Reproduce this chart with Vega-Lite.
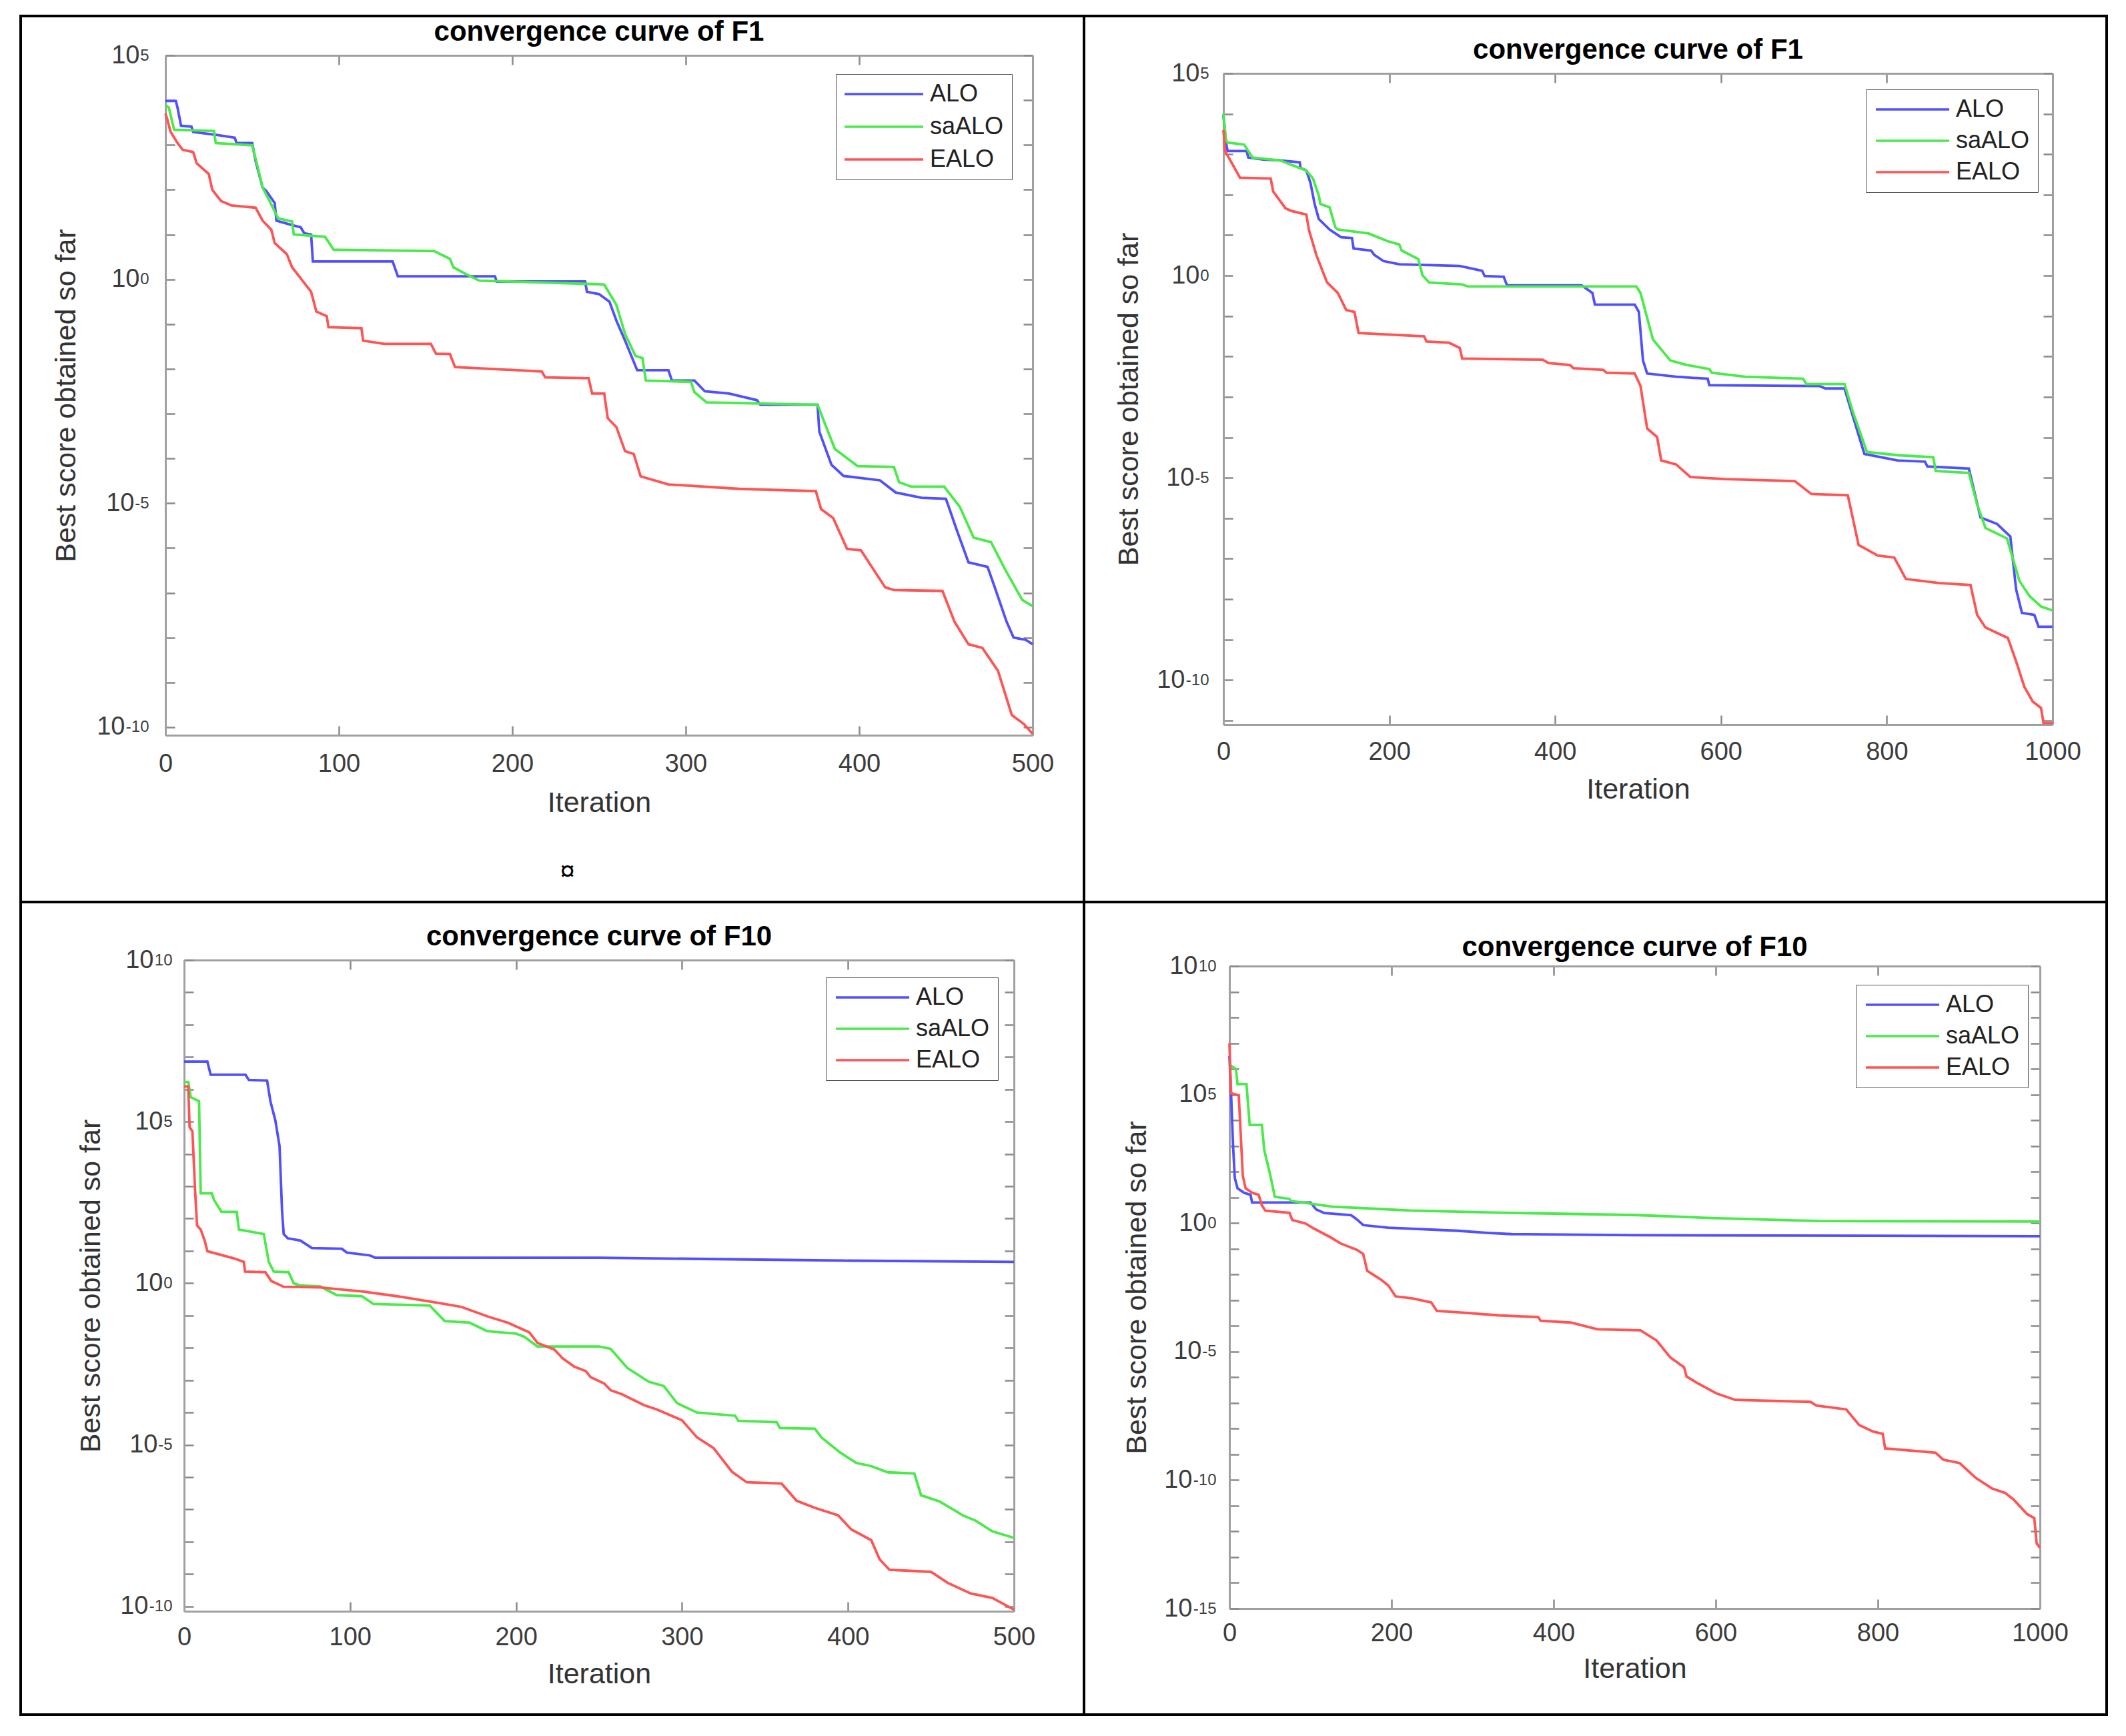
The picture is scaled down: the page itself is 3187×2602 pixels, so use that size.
{
"$schema":"https://vega.github.io/schema/vega-lite/v6.json",
"padding":{"left":29,"top":22,"right":0,"bottom":0},
"background":"white",
"config":{"font":"Liberation Sans","view":{"stroke":"#000000","strokeWidth":4,"fill":"white"},
"axis":{"grid":false,"labelFont":"Liberation Sans","labelColor":"#3c3c3c","labelFontSize":38,"titleFont":"Liberation Sans","titleFontSize":43,"titleFontWeight":"normal","titleColor":"#333333","labelFlush":false,"labelOverlap":false,"labelBound":false,"tickColor":"#8a8a8a","tickWidth":2.5,"domainColor":"#a0a0a0","domainWidth":3},
"title":{"font":"Liberation Sans","fontSize":42,"fontWeight":"bold","color":"#000000","anchor":"middle","frame":"group"},
"legend":{"labelFont":"Liberation Sans"}},
"datasets":{"curves":[
{"panel":"A","algorithm":"ALO","iteration":0,"score":9550},{"panel":"A","algorithm":"ALO","iteration":6,"score":9550},{"panel":"A","algorithm":"ALO","iteration":7,"score":6760},{"panel":"A","algorithm":"ALO","iteration":9,"score":2690},{"panel":"A","algorithm":"ALO","iteration":15,"score":2570},{"panel":"A","algorithm":"ALO","iteration":16,"score":1950},{"panel":"A","algorithm":"ALO","iteration":30,"score":1660},{"panel":"A","algorithm":"ALO","iteration":40,"score":1450},{"panel":"A","algorithm":"ALO","iteration":41,"score":1100},{"panel":"A","algorithm":"ALO","iteration":50,"score":1100},{"panel":"A","algorithm":"ALO","iteration":52,"score":436},{"panel":"A","algorithm":"ALO","iteration":56,"score":112},{"panel":"A","algorithm":"ALO","iteration":58,"score":95.5},{"panel":"A","algorithm":"ALO","iteration":63,"score":50.1},{"panel":"A","algorithm":"ALO","iteration":64,"score":20.4},{"panel":"A","algorithm":"ALO","iteration":73,"score":16.2},{"panel":"A","algorithm":"ALO","iteration":78,"score":14.5},{"panel":"A","algorithm":"ALO","iteration":80,"score":10.7},{"panel":"A","algorithm":"ALO","iteration":84,"score":10},{"panel":"A","algorithm":"ALO","iteration":85,"score":2.51},{"panel":"A","algorithm":"ALO","iteration":131,"score":2.51},{"panel":"A","algorithm":"ALO","iteration":134,"score":1.17},{"panel":"A","algorithm":"ALO","iteration":190,"score":1.17},{"panel":"A","algorithm":"ALO","iteration":191,"score":0.891},{"panel":"A","algorithm":"ALO","iteration":242,"score":0.891},{"panel":"A","algorithm":"ALO","iteration":243,"score":0.525},{"panel":"A","algorithm":"ALO","iteration":250,"score":0.468},{"panel":"A","algorithm":"ALO","iteration":256,"score":0.316},{"panel":"A","algorithm":"ALO","iteration":260,"score":0.12},{"panel":"A","algorithm":"ALO","iteration":265,"score":0.0427},{"panel":"A","algorithm":"ALO","iteration":272,"score":0.00933},{"panel":"A","algorithm":"ALO","iteration":290,"score":0.00933},{"panel":"A","algorithm":"ALO","iteration":292,"score":0.0055},{"panel":"A","algorithm":"ALO","iteration":305,"score":0.0055},{"panel":"A","algorithm":"ALO","iteration":311,"score":0.00316},{"panel":"A","algorithm":"ALO","iteration":325,"score":0.00282},{"panel":"A","algorithm":"ALO","iteration":341,"score":0.002},{"panel":"A","algorithm":"ALO","iteration":343,"score":0.00158},{"panel":"A","algorithm":"ALO","iteration":376,"score":0.00158},{"panel":"A","algorithm":"ALO","iteration":377,"score":0.000398},{"panel":"A","algorithm":"ALO","iteration":384,"score":7.24e-5},{"panel":"A","algorithm":"ALO","iteration":391,"score":4.07e-5},{"panel":"A","algorithm":"ALO","iteration":412,"score":3.24e-5},{"panel":"A","algorithm":"ALO","iteration":421,"score":1.74e-5},{"panel":"A","algorithm":"ALO","iteration":436,"score":1.32e-5},{"panel":"A","algorithm":"ALO","iteration":450,"score":1.26e-5},{"panel":"A","algorithm":"ALO","iteration":456,"score":2.69e-6},{"panel":"A","algorithm":"ALO","iteration":463,"score":4.79e-7},{"panel":"A","algorithm":"ALO","iteration":474,"score":3.8e-7},{"panel":"A","algorithm":"ALO","iteration":478,"score":1.38e-7},{"panel":"A","algorithm":"ALO","iteration":485,"score":2.24e-8},{"panel":"A","algorithm":"ALO","iteration":489,"score":1e-8},{"panel":"A","algorithm":"ALO","iteration":496,"score":8.91e-9},{"panel":"A","algorithm":"ALO","iteration":500,"score":7.08e-9},
{"panel":"A","algorithm":"saALO","iteration":0,"score":7940},{"panel":"A","algorithm":"saALO","iteration":2,"score":6760},{"panel":"A","algorithm":"saALO","iteration":5,"score":2190},{"panel":"A","algorithm":"saALO","iteration":28,"score":2040},{"panel":"A","algorithm":"saALO","iteration":29,"score":1100},{"panel":"A","algorithm":"saALO","iteration":50,"score":977},{"panel":"A","algorithm":"saALO","iteration":53,"score":347},{"panel":"A","algorithm":"saALO","iteration":56,"score":112},{"panel":"A","algorithm":"saALO","iteration":60,"score":56.2},{"panel":"A","algorithm":"saALO","iteration":65,"score":22.9},{"panel":"A","algorithm":"saALO","iteration":73,"score":19.5},{"panel":"A","algorithm":"saALO","iteration":74,"score":10},{"panel":"A","algorithm":"saALO","iteration":92,"score":8.91},{"panel":"A","algorithm":"saALO","iteration":97,"score":4.57},{"panel":"A","algorithm":"saALO","iteration":155,"score":4.27},{"panel":"A","algorithm":"saALO","iteration":158,"score":3.72},{"panel":"A","algorithm":"saALO","iteration":164,"score":2.88},{"panel":"A","algorithm":"saALO","iteration":166,"score":1.86},{"panel":"A","algorithm":"saALO","iteration":173,"score":1.32},{"panel":"A","algorithm":"saALO","iteration":181,"score":0.933},{"panel":"A","algorithm":"saALO","iteration":250,"score":0.776},{"panel":"A","algorithm":"saALO","iteration":253,"score":0.759},{"panel":"A","algorithm":"saALO","iteration":260,"score":0.269},{"panel":"A","algorithm":"saALO","iteration":265,"score":0.0603},{"panel":"A","algorithm":"saALO","iteration":271,"score":0.0195},{"panel":"A","algorithm":"saALO","iteration":275,"score":0.0174},{"panel":"A","algorithm":"saALO","iteration":277,"score":0.0055},{"panel":"A","algorithm":"saALO","iteration":303,"score":0.00513},{"panel":"A","algorithm":"saALO","iteration":305,"score":0.00302},{"panel":"A","algorithm":"saALO","iteration":312,"score":0.00178},{"panel":"A","algorithm":"saALO","iteration":376,"score":0.00158},{"panel":"A","algorithm":"saALO","iteration":381,"score":0.000501},{"panel":"A","algorithm":"saALO","iteration":386,"score":0.000162},{"panel":"A","algorithm":"saALO","iteration":399,"score":6.76e-5},{"panel":"A","algorithm":"saALO","iteration":420,"score":6.46e-5},{"panel":"A","algorithm":"saALO","iteration":423,"score":2.95e-5},{"panel":"A","algorithm":"saALO","iteration":430,"score":2.34e-5},{"panel":"A","algorithm":"saALO","iteration":449,"score":2.34e-5},{"panel":"A","algorithm":"saALO","iteration":458,"score":8.32e-6},{"panel":"A","algorithm":"saALO","iteration":466,"score":1.7e-6},{"panel":"A","algorithm":"saALO","iteration":476,"score":1.35e-6},{"panel":"A","algorithm":"saALO","iteration":484,"score":3.39e-7},{"panel":"A","algorithm":"saALO","iteration":494,"score":6.92e-8},{"panel":"A","algorithm":"saALO","iteration":500,"score":5.01e-8},
{"panel":"A","algorithm":"EALO","iteration":0,"score":5010},{"panel":"A","algorithm":"EALO","iteration":1,"score":3800},{"panel":"A","algorithm":"EALO","iteration":3,"score":1950},{"panel":"A","algorithm":"EALO","iteration":7,"score":1100},{"panel":"A","algorithm":"EALO","iteration":10,"score":776},{"panel":"A","algorithm":"EALO","iteration":16,"score":692},{"panel":"A","algorithm":"EALO","iteration":18,"score":389},{"panel":"A","algorithm":"EALO","iteration":25,"score":224},{"panel":"A","algorithm":"EALO","iteration":27,"score":100},{"panel":"A","algorithm":"EALO","iteration":32,"score":56.2},{"panel":"A","algorithm":"EALO","iteration":38,"score":44.7},{"panel":"A","algorithm":"EALO","iteration":52,"score":39.8},{"panel":"A","algorithm":"EALO","iteration":56,"score":20.4},{"panel":"A","algorithm":"EALO","iteration":61,"score":12.9},{"panel":"A","algorithm":"EALO","iteration":63,"score":6.46},{"panel":"A","algorithm":"EALO","iteration":70,"score":3.63},{"panel":"A","algorithm":"EALO","iteration":73,"score":1.86},{"panel":"A","algorithm":"EALO","iteration":79,"score":0.933},{"panel":"A","algorithm":"EALO","iteration":84,"score":0.525},{"panel":"A","algorithm":"EALO","iteration":87,"score":0.191},{"panel":"A","algorithm":"EALO","iteration":93,"score":0.151},{"panel":"A","algorithm":"EALO","iteration":94,"score":0.0851},{"panel":"A","algorithm":"EALO","iteration":113,"score":0.0813},{"panel":"A","algorithm":"EALO","iteration":114,"score":0.0427},{"panel":"A","algorithm":"EALO","iteration":126,"score":0.0363},{"panel":"A","algorithm":"EALO","iteration":153,"score":0.0363},{"panel":"A","algorithm":"EALO","iteration":156,"score":0.0219},{"panel":"A","algorithm":"EALO","iteration":164,"score":0.0214},{"panel":"A","algorithm":"EALO","iteration":167,"score":0.011},{"panel":"A","algorithm":"EALO","iteration":193,"score":0.00977},{"panel":"A","algorithm":"EALO","iteration":217,"score":0.00871},{"panel":"A","algorithm":"EALO","iteration":219,"score":0.00646},{"panel":"A","algorithm":"EALO","iteration":244,"score":0.00617},{"panel":"A","algorithm":"EALO","iteration":246,"score":0.00282},{"panel":"A","algorithm":"EALO","iteration":253,"score":0.00282},{"panel":"A","algorithm":"EALO","iteration":255,"score":0.000794},{"panel":"A","algorithm":"EALO","iteration":260,"score":0.000501},{"panel":"A","algorithm":"EALO","iteration":265,"score":0.000145},{"panel":"A","algorithm":"EALO","iteration":270,"score":0.000126},{"panel":"A","algorithm":"EALO","iteration":274,"score":3.98e-5},{"panel":"A","algorithm":"EALO","iteration":290,"score":2.63e-5},{"panel":"A","algorithm":"EALO","iteration":331,"score":2.09e-5},{"panel":"A","algorithm":"EALO","iteration":375,"score":1.86e-5},{"panel":"A","algorithm":"EALO","iteration":378,"score":7.41e-6},{"panel":"A","algorithm":"EALO","iteration":385,"score":4.68e-6},{"panel":"A","algorithm":"EALO","iteration":393,"score":9.55e-7},{"panel":"A","algorithm":"EALO","iteration":401,"score":8.91e-7},{"panel":"A","algorithm":"EALO","iteration":415,"score":1.32e-7},{"panel":"A","algorithm":"EALO","iteration":420,"score":1.15e-7},{"panel":"A","algorithm":"EALO","iteration":448,"score":1.1e-7},{"panel":"A","algorithm":"EALO","iteration":455,"score":2.24e-8},{"panel":"A","algorithm":"EALO","iteration":463,"score":7.08e-9},{"panel":"A","algorithm":"EALO","iteration":471,"score":5.89e-9},{"panel":"A","algorithm":"EALO","iteration":480,"score":1.82e-9},{"panel":"A","algorithm":"EALO","iteration":488,"score":1.86e-10},{"panel":"A","algorithm":"EALO","iteration":495,"score":1.17e-10},{"panel":"A","algorithm":"EALO","iteration":500,"score":7.08e-11},
{"panel":"B","algorithm":"ALO","iteration":0,"score":9330},{"panel":"B","algorithm":"ALO","iteration":3,"score":2000},{"panel":"B","algorithm":"ALO","iteration":5,"score":1200},{"panel":"B","algorithm":"ALO","iteration":28,"score":1200},{"panel":"B","algorithm":"ALO","iteration":30,"score":832},{"panel":"B","algorithm":"ALO","iteration":48,"score":741},{"panel":"B","algorithm":"ALO","iteration":68,"score":708},{"panel":"B","algorithm":"ALO","iteration":92,"score":631},{"panel":"B","algorithm":"ALO","iteration":93,"score":457},{"panel":"B","algorithm":"ALO","iteration":100,"score":398},{"panel":"B","algorithm":"ALO","iteration":105,"score":195},{"panel":"B","algorithm":"ALO","iteration":110,"score":58.9},{"panel":"B","algorithm":"ALO","iteration":115,"score":25.1},{"panel":"B","algorithm":"ALO","iteration":128,"score":13.8},{"panel":"B","algorithm":"ALO","iteration":142,"score":8.91},{"panel":"B","algorithm":"ALO","iteration":155,"score":8.51},{"panel":"B","algorithm":"ALO","iteration":157,"score":4.68},{"panel":"B","algorithm":"ALO","iteration":178,"score":4.17},{"panel":"B","algorithm":"ALO","iteration":182,"score":3.24},{"panel":"B","algorithm":"ALO","iteration":193,"score":2.29},{"panel":"B","algorithm":"ALO","iteration":212,"score":1.91},{"panel":"B","algorithm":"ALO","iteration":285,"score":1.74},{"panel":"B","algorithm":"ALO","iteration":312,"score":1.32},{"panel":"B","algorithm":"ALO","iteration":315,"score":0.977},{"panel":"B","algorithm":"ALO","iteration":338,"score":0.933},{"panel":"B","algorithm":"ALO","iteration":342,"score":0.575},{"panel":"B","algorithm":"ALO","iteration":432,"score":0.575},{"panel":"B","algorithm":"ALO","iteration":445,"score":0.372},{"panel":"B","algorithm":"ALO","iteration":448,"score":0.191},{"panel":"B","algorithm":"ALO","iteration":496,"score":0.191},{"panel":"B","algorithm":"ALO","iteration":501,"score":0.126},{"panel":"B","algorithm":"ALO","iteration":506,"score":0.00794},{"panel":"B","algorithm":"ALO","iteration":511,"score":0.0038},{"panel":"B","algorithm":"ALO","iteration":546,"score":0.00316},{"panel":"B","algorithm":"ALO","iteration":584,"score":0.00282},{"panel":"B","algorithm":"ALO","iteration":586,"score":0.00195},{"panel":"B","algorithm":"ALO","iteration":719,"score":0.00186},{"panel":"B","algorithm":"ALO","iteration":726,"score":0.00162},{"panel":"B","algorithm":"ALO","iteration":749,"score":0.00162},{"panel":"B","algorithm":"ALO","iteration":759,"score":0.000339},{"panel":"B","algorithm":"ALO","iteration":773,"score":3.89e-5},{"panel":"B","algorithm":"ALO","iteration":813,"score":2.69e-5},{"panel":"B","algorithm":"ALO","iteration":846,"score":2.51e-5},{"panel":"B","algorithm":"ALO","iteration":849,"score":1.91e-5},{"panel":"B","algorithm":"ALO","iteration":899,"score":1.7e-5},{"panel":"B","algorithm":"ALO","iteration":913,"score":1.05e-6},{"panel":"B","algorithm":"ALO","iteration":933,"score":7.24e-7},{"panel":"B","algorithm":"ALO","iteration":949,"score":3.55e-7},{"panel":"B","algorithm":"ALO","iteration":956,"score":1.74e-8},{"panel":"B","algorithm":"ALO","iteration":963,"score":4.57e-9},{"panel":"B","algorithm":"ALO","iteration":978,"score":4.07e-9},{"panel":"B","algorithm":"ALO","iteration":983,"score":2.09e-9},{"panel":"B","algorithm":"ALO","iteration":1000,"score":2.09e-9},
{"panel":"B","algorithm":"saALO","iteration":0,"score":10000},{"panel":"B","algorithm":"saALO","iteration":3,"score":2240},{"panel":"B","algorithm":"saALO","iteration":5,"score":1950},{"panel":"B","algorithm":"saALO","iteration":25,"score":1740},{"panel":"B","algorithm":"saALO","iteration":35,"score":832},{"panel":"B","algorithm":"saALO","iteration":68,"score":708},{"panel":"B","algorithm":"saALO","iteration":92,"score":457},{"panel":"B","algorithm":"saALO","iteration":100,"score":398},{"panel":"B","algorithm":"saALO","iteration":108,"score":251},{"panel":"B","algorithm":"saALO","iteration":115,"score":95.5},{"panel":"B","algorithm":"saALO","iteration":117,"score":58.9},{"panel":"B","algorithm":"saALO","iteration":128,"score":49},{"panel":"B","algorithm":"saALO","iteration":135,"score":15.5},{"panel":"B","algorithm":"saALO","iteration":138,"score":13.8},{"panel":"B","algorithm":"saALO","iteration":175,"score":11},{"panel":"B","algorithm":"saALO","iteration":198,"score":7.08},{"panel":"B","algorithm":"saALO","iteration":212,"score":5.89},{"panel":"B","algorithm":"saALO","iteration":215,"score":4.17},{"panel":"B","algorithm":"saALO","iteration":235,"score":2.57},{"panel":"B","algorithm":"saALO","iteration":240,"score":1.02},{"panel":"B","algorithm":"saALO","iteration":248,"score":0.676},{"panel":"B","algorithm":"saALO","iteration":288,"score":0.603},{"panel":"B","algorithm":"saALO","iteration":295,"score":0.537},{"panel":"B","algorithm":"saALO","iteration":498,"score":0.537},{"panel":"B","algorithm":"saALO","iteration":503,"score":0.372},{"panel":"B","algorithm":"saALO","iteration":518,"score":0.0263},{"panel":"B","algorithm":"saALO","iteration":539,"score":0.00794},{"panel":"B","algorithm":"saALO","iteration":559,"score":0.00617},{"panel":"B","algorithm":"saALO","iteration":586,"score":0.0049},{"panel":"B","algorithm":"saALO","iteration":589,"score":0.00398},{"panel":"B","algorithm":"saALO","iteration":629,"score":0.00316},{"panel":"B","algorithm":"saALO","iteration":699,"score":0.00282},{"panel":"B","algorithm":"saALO","iteration":703,"score":0.00209},{"panel":"B","algorithm":"saALO","iteration":749,"score":0.00209},{"panel":"B","algorithm":"saALO","iteration":759,"score":0.000437},{"panel":"B","algorithm":"saALO","iteration":776,"score":4.37e-5},{"panel":"B","algorithm":"saALO","iteration":813,"score":3.63e-5},{"panel":"B","algorithm":"saALO","iteration":856,"score":3.24e-5},{"panel":"B","algorithm":"saALO","iteration":859,"score":1.48e-5},{"panel":"B","algorithm":"saALO","iteration":899,"score":1.32e-5},{"panel":"B","algorithm":"saALO","iteration":909,"score":2.19e-6},{"panel":"B","algorithm":"saALO","iteration":919,"score":5.75e-7},{"panel":"B","algorithm":"saALO","iteration":945,"score":3.16e-7},{"panel":"B","algorithm":"saALO","iteration":960,"score":2.82e-8},{"panel":"B","algorithm":"saALO","iteration":972,"score":1.2e-8},{"panel":"B","algorithm":"saALO","iteration":986,"score":6.61e-9},{"panel":"B","algorithm":"saALO","iteration":1000,"score":5.25e-9},
{"panel":"B","algorithm":"EALO","iteration":0,"score":3980},{"panel":"B","algorithm":"EALO","iteration":2,"score":1200},{"panel":"B","algorithm":"EALO","iteration":20,"score":263},{"panel":"B","algorithm":"EALO","iteration":57,"score":251},{"panel":"B","algorithm":"EALO","iteration":60,"score":120},{"panel":"B","algorithm":"EALO","iteration":75,"score":45.7},{"panel":"B","algorithm":"EALO","iteration":82,"score":39.8},{"panel":"B","algorithm":"EALO","iteration":100,"score":32.4},{"panel":"B","algorithm":"EALO","iteration":103,"score":13.8},{"panel":"B","algorithm":"EALO","iteration":112,"score":3.24},{"panel":"B","algorithm":"EALO","iteration":120,"score":1.23},{"panel":"B","algorithm":"EALO","iteration":125,"score":0.676},{"panel":"B","algorithm":"EALO","iteration":138,"score":0.372},{"panel":"B","algorithm":"EALO","iteration":148,"score":0.141},{"panel":"B","algorithm":"EALO","iteration":158,"score":0.126},{"panel":"B","algorithm":"EALO","iteration":163,"score":0.038},{"panel":"B","algorithm":"EALO","iteration":242,"score":0.0316},{"panel":"B","algorithm":"EALO","iteration":245,"score":0.0234},{"panel":"B","algorithm":"EALO","iteration":272,"score":0.0219},{"panel":"B","algorithm":"EALO","iteration":285,"score":0.0162},{"panel":"B","algorithm":"EALO","iteration":288,"score":0.00891},{"panel":"B","algorithm":"EALO","iteration":385,"score":0.00832},{"panel":"B","algorithm":"EALO","iteration":392,"score":0.00692},{"panel":"B","algorithm":"EALO","iteration":418,"score":0.00617},{"panel":"B","algorithm":"EALO","iteration":422,"score":0.00513},{"panel":"B","algorithm":"EALO","iteration":458,"score":0.00468},{"panel":"B","algorithm":"EALO","iteration":462,"score":0.00398},{"panel":"B","algorithm":"EALO","iteration":496,"score":0.0038},{"panel":"B","algorithm":"EALO","iteration":503,"score":0.00186},{"panel":"B","algorithm":"EALO","iteration":511,"score":0.000166},{"panel":"B","algorithm":"EALO","iteration":523,"score":0.000102},{"panel":"B","algorithm":"EALO","iteration":528,"score":2.69e-5},{"panel":"B","algorithm":"EALO","iteration":546,"score":2.14e-5},{"panel":"B","algorithm":"EALO","iteration":563,"score":1.05e-5},{"panel":"B","algorithm":"EALO","iteration":606,"score":9.33e-6},{"panel":"B","algorithm":"EALO","iteration":689,"score":8.32e-6},{"panel":"B","algorithm":"EALO","iteration":709,"score":3.98e-6},{"panel":"B","algorithm":"EALO","iteration":753,"score":3.72e-6},{"panel":"B","algorithm":"EALO","iteration":766,"score":2.19e-7},{"panel":"B","algorithm":"EALO","iteration":789,"score":1.2e-7},{"panel":"B","algorithm":"EALO","iteration":809,"score":1.07e-7},{"panel":"B","algorithm":"EALO","iteration":823,"score":3.16e-8},{"panel":"B","algorithm":"EALO","iteration":863,"score":2.51e-8},{"panel":"B","algorithm":"EALO","iteration":901,"score":2.24e-8},{"panel":"B","algorithm":"EALO","iteration":909,"score":4.07e-9},{"panel":"B","algorithm":"EALO","iteration":919,"score":2e-9},{"panel":"B","algorithm":"EALO","iteration":946,"score":1.1e-9},{"panel":"B","algorithm":"EALO","iteration":956,"score":2.88e-10},{"panel":"B","algorithm":"EALO","iteration":966,"score":6.76e-11},{"panel":"B","algorithm":"EALO","iteration":976,"score":2.95e-11},{"panel":"B","algorithm":"EALO","iteration":986,"score":2.04e-11},{"panel":"B","algorithm":"EALO","iteration":989,"score":8.71e-12},{"panel":"B","algorithm":"EALO","iteration":1000,"score":8.71e-12},
{"panel":"C","algorithm":"ALO","iteration":0,"score":7240000},{"panel":"C","algorithm":"ALO","iteration":14,"score":7240000},{"panel":"C","algorithm":"ALO","iteration":16,"score":2820000},{"panel":"C","algorithm":"ALO","iteration":37,"score":2820000},{"panel":"C","algorithm":"ALO","iteration":39,"score":1950000},{"panel":"C","algorithm":"ALO","iteration":50,"score":1860000},{"panel":"C","algorithm":"ALO","iteration":52,"score":427000},{"panel":"C","algorithm":"ALO","iteration":55,"score":107000},{"panel":"C","algorithm":"ALO","iteration":57.5,"score":17400},{"panel":"C","algorithm":"ALO","iteration":59,"score":178},{"panel":"C","algorithm":"ALO","iteration":60,"score":33.1},{"panel":"C","algorithm":"ALO","iteration":62.5,"score":24.5},{"panel":"C","algorithm":"ALO","iteration":70,"score":20.9},{"panel":"C","algorithm":"ALO","iteration":77,"score":12.3},{"panel":"C","algorithm":"ALO","iteration":95,"score":11.7},{"panel":"C","algorithm":"ALO","iteration":98,"score":8.91},{"panel":"C","algorithm":"ALO","iteration":112,"score":7.24},{"panel":"C","algorithm":"ALO","iteration":115,"score":6.17},{"panel":"C","algorithm":"ALO","iteration":250,"score":6.17},{"panel":"C","algorithm":"ALO","iteration":347,"score":5.37},{"panel":"C","algorithm":"ALO","iteration":397,"score":5.01},{"panel":"C","algorithm":"ALO","iteration":500,"score":4.57},
{"panel":"C","algorithm":"saALO","iteration":0,"score":1700000},{"panel":"C","algorithm":"saALO","iteration":2.5,"score":1700000},{"panel":"C","algorithm":"saALO","iteration":4,"score":575000},{"panel":"C","algorithm":"saALO","iteration":9,"score":427000},{"panel":"C","algorithm":"saALO","iteration":10,"score":603},{"panel":"C","algorithm":"saALO","iteration":16.7,"score":603},{"panel":"C","algorithm":"saALO","iteration":18,"score":380},{"panel":"C","algorithm":"saALO","iteration":22.5,"score":162},{"panel":"C","algorithm":"saALO","iteration":31.7,"score":162},{"panel":"C","algorithm":"saALO","iteration":33,"score":45.7},{"panel":"C","algorithm":"saALO","iteration":48,"score":33.1},{"panel":"C","algorithm":"saALO","iteration":51,"score":4.57},{"panel":"C","algorithm":"saALO","iteration":54,"score":2.29},{"panel":"C","algorithm":"saALO","iteration":63,"score":2.19},{"panel":"C","algorithm":"saALO","iteration":66,"score":1},{"panel":"C","algorithm":"saALO","iteration":70,"score":0.851},{"panel":"C","algorithm":"saALO","iteration":82,"score":0.794},{"panel":"C","algorithm":"saALO","iteration":92,"score":0.427},{"panel":"C","algorithm":"saALO","iteration":107,"score":0.398},{"panel":"C","algorithm":"saALO","iteration":114,"score":0.229},{"panel":"C","algorithm":"saALO","iteration":148,"score":0.204},{"panel":"C","algorithm":"saALO","iteration":157,"score":0.0676},{"panel":"C","algorithm":"saALO","iteration":172,"score":0.0603},{"panel":"C","algorithm":"saALO","iteration":182.5,"score":0.0331},{"panel":"C","algorithm":"saALO","iteration":200,"score":0.0275},{"panel":"C","algorithm":"saALO","iteration":205,"score":0.0219},{"panel":"C","algorithm":"saALO","iteration":213,"score":0.011},{"panel":"C","algorithm":"saALO","iteration":250,"score":0.011},{"panel":"C","algorithm":"saALO","iteration":257,"score":0.00933},{"panel":"C","algorithm":"saALO","iteration":267,"score":0.0024},{"panel":"C","algorithm":"saALO","iteration":280,"score":0.000891},{"panel":"C","algorithm":"saALO","iteration":289,"score":0.000661},{"panel":"C","algorithm":"saALO","iteration":297,"score":0.000195},{"panel":"C","algorithm":"saALO","iteration":309,"score":0.0001},{"panel":"C","algorithm":"saALO","iteration":332,"score":7.94e-5},{"panel":"C","algorithm":"saALO","iteration":334,"score":5.5e-5},{"panel":"C","algorithm":"saALO","iteration":357,"score":5.01e-5},{"panel":"C","algorithm":"saALO","iteration":359,"score":3.31e-5},{"panel":"C","algorithm":"saALO","iteration":380,"score":3.16e-5},{"panel":"C","algorithm":"saALO","iteration":384,"score":1.7e-5},{"panel":"C","algorithm":"saALO","iteration":395,"score":5.89e-6},{"panel":"C","algorithm":"saALO","iteration":405,"score":2.75e-6},{"panel":"C","algorithm":"saALO","iteration":414,"score":2.19e-6},{"panel":"C","algorithm":"saALO","iteration":424,"score":1.41e-6},{"panel":"C","algorithm":"saALO","iteration":440,"score":1.29e-6},{"panel":"C","algorithm":"saALO","iteration":444,"score":2.75e-7},{"panel":"C","algorithm":"saALO","iteration":455,"score":1.78e-7},{"panel":"C","algorithm":"saALO","iteration":464,"score":9.55e-8},{"panel":"C","algorithm":"saALO","iteration":469,"score":6.61e-8},{"panel":"C","algorithm":"saALO","iteration":477,"score":4.47e-8},{"panel":"C","algorithm":"saALO","iteration":487,"score":2.09e-8},{"panel":"C","algorithm":"saALO","iteration":500,"score":1.32e-8},
{"panel":"C","algorithm":"EALO","iteration":0,"score":1230000},{"panel":"C","algorithm":"EALO","iteration":2.5,"score":1230000},{"panel":"C","algorithm":"EALO","iteration":3.3,"score":67600},{"panel":"C","algorithm":"EALO","iteration":5,"score":50100},{"panel":"C","algorithm":"EALO","iteration":6.7,"score":603},{"panel":"C","algorithm":"EALO","iteration":7.8,"score":61.7},{"panel":"C","algorithm":"EALO","iteration":10,"score":45.7},{"panel":"C","algorithm":"EALO","iteration":12.5,"score":20},{"panel":"C","algorithm":"EALO","iteration":14,"score":9.77},{"panel":"C","algorithm":"EALO","iteration":30,"score":5.89},{"panel":"C","algorithm":"EALO","iteration":36,"score":4.57},{"panel":"C","algorithm":"EALO","iteration":36.7,"score":2.29},{"panel":"C","algorithm":"EALO","iteration":49,"score":2.19},{"panel":"C","algorithm":"EALO","iteration":52.5,"score":1.17},{"panel":"C","algorithm":"EALO","iteration":60,"score":0.776},{"panel":"C","algorithm":"EALO","iteration":82,"score":0.741},{"panel":"C","algorithm":"EALO","iteration":108,"score":0.55},{"panel":"C","algorithm":"EALO","iteration":128,"score":0.398},{"panel":"C","algorithm":"EALO","iteration":152,"score":0.251},{"panel":"C","algorithm":"EALO","iteration":167,"score":0.186},{"panel":"C","algorithm":"EALO","iteration":183,"score":0.0933},{"panel":"C","algorithm":"EALO","iteration":195,"score":0.0603},{"panel":"C","algorithm":"EALO","iteration":208,"score":0.0302},{"panel":"C","algorithm":"EALO","iteration":213,"score":0.0141},{"panel":"C","algorithm":"EALO","iteration":223,"score":0.00891},{"panel":"C","algorithm":"EALO","iteration":228,"score":0.00479},{"panel":"C","algorithm":"EALO","iteration":235,"score":0.00263},{"panel":"C","algorithm":"EALO","iteration":242,"score":0.00191},{"panel":"C","algorithm":"EALO","iteration":245,"score":0.00123},{"panel":"C","algorithm":"EALO","iteration":253,"score":0.000794},{"panel":"C","algorithm":"EALO","iteration":257,"score":0.00049},{"panel":"C","algorithm":"EALO","iteration":264,"score":0.000363},{"panel":"C","algorithm":"EALO","iteration":277,"score":0.00017},{"panel":"C","algorithm":"EALO","iteration":285,"score":0.000123},{"panel":"C","algorithm":"EALO","iteration":300,"score":5.75e-5},{"panel":"C","algorithm":"EALO","iteration":309,"score":1.7e-5},{"panel":"C","algorithm":"EALO","iteration":319,"score":7.94e-6},{"panel":"C","algorithm":"EALO","iteration":330,"score":1.48e-6},{"panel":"C","algorithm":"EALO","iteration":339,"score":6.92e-7},{"panel":"C","algorithm":"EALO","iteration":360,"score":6.31e-7},{"panel":"C","algorithm":"EALO","iteration":369,"score":1.86e-7},{"panel":"C","algorithm":"EALO","iteration":380,"score":1.12e-7},{"panel":"C","algorithm":"EALO","iteration":394,"score":6.61e-8},{"panel":"C","algorithm":"EALO","iteration":402,"score":2.4e-8},{"panel":"C","algorithm":"EALO","iteration":414,"score":1.12e-8},{"panel":"C","algorithm":"EALO","iteration":419,"score":2.88e-9},{"panel":"C","algorithm":"EALO","iteration":425,"score":1.35e-9},{"panel":"C","algorithm":"EALO","iteration":450,"score":1.17e-9},{"panel":"C","algorithm":"EALO","iteration":460,"score":5.37e-10},{"panel":"C","algorithm":"EALO","iteration":474,"score":2.51e-10},{"panel":"C","algorithm":"EALO","iteration":487,"score":1.82e-10},{"panel":"C","algorithm":"EALO","iteration":500,"score":7.94e-11},
{"panel":"D","algorithm":"ALO","iteration":0,"score":3160000},{"panel":"D","algorithm":"ALO","iteration":2,"score":112000},{"panel":"D","algorithm":"ALO","iteration":4.5,"score":1000},{"panel":"D","algorithm":"ALO","iteration":6.6,"score":57.5},{"panel":"D","algorithm":"ALO","iteration":10,"score":22.4},{"panel":"D","algorithm":"ALO","iteration":18,"score":15.1},{"panel":"D","algorithm":"ALO","iteration":26,"score":12.6},{"panel":"D","algorithm":"ALO","iteration":28,"score":6.31},{"panel":"D","algorithm":"ALO","iteration":100,"score":6.31},{"panel":"D","algorithm":"ALO","iteration":107,"score":3.39},{"panel":"D","algorithm":"ALO","iteration":117,"score":2.45},{"panel":"D","algorithm":"ALO","iteration":150,"score":2.04},{"panel":"D","algorithm":"ALO","iteration":157,"score":1.41},{"panel":"D","algorithm":"ALO","iteration":165,"score":0.832},{"panel":"D","algorithm":"ALO","iteration":196,"score":0.661},{"panel":"D","algorithm":"ALO","iteration":282,"score":0.501},{"panel":"D","algorithm":"ALO","iteration":318,"score":0.417},{"panel":"D","algorithm":"ALO","iteration":348,"score":0.372},{"panel":"D","algorithm":"ALO","iteration":500,"score":0.339},{"panel":"D","algorithm":"ALO","iteration":1000,"score":0.309},
{"panel":"D","algorithm":"saALO","iteration":0,"score":2000000},{"panel":"D","algorithm":"saALO","iteration":1.6,"score":1320000},{"panel":"D","algorithm":"saALO","iteration":8,"score":1000000},{"panel":"D","algorithm":"saALO","iteration":10,"score":257000},{"panel":"D","algorithm":"saALO","iteration":21,"score":257000},{"panel":"D","algorithm":"saALO","iteration":25,"score":6610},{"panel":"D","algorithm":"saALO","iteration":40,"score":6610},{"panel":"D","algorithm":"saALO","iteration":43,"score":676},{"panel":"D","algorithm":"saALO","iteration":50,"score":83.2},{"panel":"D","algorithm":"saALO","iteration":56,"score":10.5},{"panel":"D","algorithm":"saALO","iteration":74,"score":8.71},{"panel":"D","algorithm":"saALO","iteration":76,"score":7.24},{"panel":"D","algorithm":"saALO","iteration":127,"score":4.37},{"panel":"D","algorithm":"saALO","iteration":223,"score":3.09},{"panel":"D","algorithm":"saALO","iteration":325,"score":2.57},{"panel":"D","algorithm":"saALO","iteration":503,"score":2.04},{"panel":"D","algorithm":"saALO","iteration":594,"score":1.58},{"panel":"D","algorithm":"saALO","iteration":727,"score":1.2},{"panel":"D","algorithm":"saALO","iteration":1000,"score":1.15},
{"panel":"D","algorithm":"EALO","iteration":0,"score":10000000},{"panel":"D","algorithm":"EALO","iteration":2,"score":112000},{"panel":"D","algorithm":"EALO","iteration":11.5,"score":93300},{"panel":"D","algorithm":"EALO","iteration":16.5,"score":69.2},{"panel":"D","algorithm":"EALO","iteration":20,"score":22.4},{"panel":"D","algorithm":"EALO","iteration":28,"score":15.1},{"panel":"D","algorithm":"EALO","iteration":36,"score":12.6},{"panel":"D","algorithm":"EALO","iteration":40,"score":4.9},{"panel":"D","algorithm":"EALO","iteration":44.5,"score":3.02},{"panel":"D","algorithm":"EALO","iteration":74,"score":2.51},{"panel":"D","algorithm":"EALO","iteration":77.6,"score":1.32},{"panel":"D","algorithm":"EALO","iteration":94,"score":0.955},{"panel":"D","algorithm":"EALO","iteration":104,"score":0.617},{"panel":"D","algorithm":"EALO","iteration":124,"score":0.288},{"panel":"D","algorithm":"EALO","iteration":137,"score":0.162},{"panel":"D","algorithm":"EALO","iteration":157,"score":0.0912},{"panel":"D","algorithm":"EALO","iteration":165,"score":0.0631},{"panel":"D","algorithm":"EALO","iteration":170,"score":0.0138},{"panel":"D","algorithm":"EALO","iteration":186.5,"score":0.00646},{"panel":"D","algorithm":"EALO","iteration":196,"score":0.00372},{"panel":"D","algorithm":"EALO","iteration":205,"score":0.00141},{"panel":"D","algorithm":"EALO","iteration":226,"score":0.00117},{"panel":"D","algorithm":"EALO","iteration":249,"score":0.000813},{"panel":"D","algorithm":"EALO","iteration":256,"score":0.00038},{"panel":"D","algorithm":"EALO","iteration":282,"score":0.000339},{"panel":"D","algorithm":"EALO","iteration":332,"score":0.000257},{"panel":"D","algorithm":"EALO","iteration":381,"score":0.000219},{"panel":"D","algorithm":"EALO","iteration":384,"score":0.000158},{"panel":"D","algorithm":"EALO","iteration":421,"score":0.000135},{"panel":"D","algorithm":"EALO","iteration":454,"score":7.41e-5},{"panel":"D","algorithm":"EALO","iteration":507,"score":6.76e-5},{"panel":"D","algorithm":"EALO","iteration":527,"score":2.69e-5},{"panel":"D","algorithm":"EALO","iteration":544,"score":5.89e-6},{"panel":"D","algorithm":"EALO","iteration":561,"score":2.45e-6},{"panel":"D","algorithm":"EALO","iteration":564,"score":1.07e-6},{"panel":"D","algorithm":"EALO","iteration":577,"score":6.03e-7},{"panel":"D","algorithm":"EALO","iteration":601,"score":2.34e-7},{"panel":"D","algorithm":"EALO","iteration":624,"score":1.32e-7},{"panel":"D","algorithm":"EALO","iteration":717,"score":1.1e-7},{"panel":"D","algorithm":"EALO","iteration":724,"score":7.94e-8},{"panel":"D","algorithm":"EALO","iteration":761,"score":5.62e-8},{"panel":"D","algorithm":"EALO","iteration":777,"score":1.38e-8},{"panel":"D","algorithm":"EALO","iteration":794,"score":7.76e-9},{"panel":"D","algorithm":"EALO","iteration":806,"score":6.31e-9},{"panel":"D","algorithm":"EALO","iteration":809,"score":1.7e-9},{"panel":"D","algorithm":"EALO","iteration":871,"score":1.17e-9},{"panel":"D","algorithm":"EALO","iteration":881,"score":6.17e-10},{"panel":"D","algorithm":"EALO","iteration":901,"score":4.57e-10},{"panel":"D","algorithm":"EALO","iteration":921,"score":1.2e-10},{"panel":"D","algorithm":"EALO","iteration":941,"score":4.68e-11},{"panel":"D","algorithm":"EALO","iteration":957,"score":3.16e-11},{"panel":"D","algorithm":"EALO","iteration":967,"score":1.82e-11},{"panel":"D","algorithm":"EALO","iteration":984,"score":4.79e-12},{"panel":"D","algorithm":"EALO","iteration":993,"score":3.31e-12},{"panel":"D","algorithm":"EALO","iteration":996,"score":3.39e-13},{"panel":"D","algorithm":"EALO","iteration":1000,"score":2.34e-13}
]},
"columns":2,
"spacing":0,
"bounds":"flush",
"resolve":{"scale":{"color":"independent"},"legend":{"color":"independent"}},
"concat":[
{"width":1594,"height":1328,
 "title":{"text":"convergence curve of F1","dx":70,"offset":-79,"baseline":"alphabetic"},
 "data":{"name":"curves"},"transform":[{"filter":"datum.panel == 'A'"}],
 "resolve":{"axis":{"x":"independent","y":"independent"}},
 "layer":[
  {"mark":{"type":"line","strokeWidth":3.8,"clip":true},
   "encoding":{
    "x":{"field":"iteration","type":"quantitative","scale":{"domain":[0,500],"range":[217,1517],"nice":false,"zero":false},
      "axis":{"orient":"bottom","offset":-250,"values":[0,100,200,300,400,500],"format":"d","ticks":false,"domain":false,"labelPadding":24,"labelBaseline":"top","title":"Iteration","titleY":114,"titleBaseline":"alphabetic"}},
    "y":{"field":"score","type":"quantitative","scale":{"type":"log","domain":[6.6e-11,100000],"range":[1078,59],"nice":false},
      "axis":{"orient":"left","offset":-217,"values":[1e-10,1e-5,1,100000],"labelExpr":"'10'","ticks":false,"domain":false,"labelBaseline":"middle","labelPadding":{"condition":[{"test":"datum.value < 1e-7","value":61},{"test":"datum.value < 0.1","value":47}],"value":39},"title":"Best score obtained so far","titleX":-136,"titleBaseline":"alphabetic","titleAngle":-90}},
    "color":{"field":"algorithm","type":"nominal","scale":{"domain":["ALO","saALO","EALO"],"range":["#5050ff","#4aea4a","#ff5454"]},
      "legend":{"orient":"none","legendX":1222,"legendY":87,"title":null,"symbolType":"M-3.93,0H3.93","symbolSize":900,"symbolStrokeWidth":3.5,"symbolOffset":42,"labelOffset":51,"labelFontSize":36,"labelColor":"#222222","padding":12,"rowPadding":13,"strokeColor":"#555555","fillColor":"#ffffff"}}
   }},
  {"mark":{"type":"line","opacity":0},
   "encoding":{
    "x":{"field":"iteration","type":"quantitative","axis":{"orient":"bottom","offset":-250,"values":[0,100,200,300,400,500],"labels":false,"tickSize":-14,"title":"¤","titleX":819,"titleY":216,"titleBaseline":"alphabetic","titleFontSize":40,"titleColor":"#000000"}},
    "y":{"field":"score","type":"quantitative","axis":{"orient":"left","offset":-217,"values":[1e-10,1e-5,1,100000],"labelExpr":"'' + round(log(datum.value)/LN10)","ticks":false,"domain":false,"labelFontSize":24,"labelPadding":25,"labelDy":-17,"labelBaseline":"middle","title":null}},
    "detail":{"field":"algorithm"}}},
  {"mark":{"type":"line","opacity":0},
   "encoding":{
    "x":{"field":"iteration","type":"quantitative","axis":{"orient":"top","offset":-59,"values":[0,100,200,300,400,500],"labels":false,"tickSize":-14,"title":null}},
    "y":{"field":"score","type":"quantitative","axis":{"orient":"left","offset":-217,"values":[1e-10,1e-9,1e-8,1e-7,1e-6,1e-5,1e-4,1e-3,0.01,0.1,1,10,100,1000,10000,100000],"labels":false,"tickSize":-14,"title":null}},
    "detail":{"field":"algorithm"}}},
  {"mark":{"type":"line","opacity":0},
   "encoding":{
    "x":{"field":"iteration","type":"quantitative","axis":null},
    "y":{"field":"score","type":"quantitative","axis":{"orient":"right","offset":-77,"values":[1e-10,1e-9,1e-8,1e-7,1e-6,1e-5,1e-4,1e-3,0.01,0.1,1,10,100,1000,10000,100000],"labels":false,"tickSize":-14,"title":null}},
    "detail":{"field":"algorithm"}}}
 ]},
{"width":1533,"height":1328,
 "title":{"text":"convergence curve of F1","dx":64,"offset":-106,"baseline":"alphabetic"},
 "data":{"name":"curves"},"transform":[{"filter":"datum.panel == 'B'"}],
 "resolve":{"axis":{"x":"independent","y":"independent"}},
 "layer":[
  {"mark":{"type":"line","strokeWidth":3.8,"clip":true},
   "encoding":{
    "x":{"field":"iteration","type":"quantitative","scale":{"domain":[0,1000],"range":[209,1452],"nice":false,"zero":false},
      "axis":{"orient":"bottom","offset":-266,"values":[0,200,400,600,800,1000],"format":"d","ticks":false,"domain":false,"labelPadding":22,"labelBaseline":"top","title":"Iteration","titleY":110,"titleBaseline":"alphabetic"}},
    "y":{"field":"score","type":"quantitative","scale":{"type":"log","domain":[7.94e-12,100000],"range":[1062,86],"nice":false},
      "axis":{"orient":"left","offset":-209,"values":[1e-10,1e-5,1,100000],"labelExpr":"'10'","ticks":false,"domain":false,"labelBaseline":"middle","labelPadding":{"condition":[{"test":"datum.value < 1e-7","value":58},{"test":"datum.value < 0.1","value":44}],"value":36},"title":"Best score obtained so far","titleX":-129,"titleBaseline":"alphabetic","titleAngle":-90}},
    "color":{"field":"algorithm","type":"nominal","scale":{"domain":["ALO","saALO","EALO"],"range":["#5050ff","#4aea4a","#ff5454"]},
      "legend":{"orient":"none","legendX":1172,"legendY":110,"title":null,"symbolType":"M-3.67,0H3.67","symbolSize":900,"symbolStrokeWidth":3.5,"symbolOffset":40,"labelOffset":47,"labelFontSize":36,"labelColor":"#222222","padding":12,"rowPadding":11,"strokeColor":"#555555","fillColor":"#ffffff"}}
   }},
  {"mark":{"type":"line","opacity":0},
   "encoding":{
    "x":{"field":"iteration","type":"quantitative","axis":{"orient":"bottom","offset":-266,"values":[0,200,400,600,800,1000],"labels":false,"tickSize":-14,"title":null}},
    "y":{"field":"score","type":"quantitative","axis":{"orient":"left","offset":-209,"values":[1e-10,1e-5,1,100000],"labelExpr":"'' + round(log(datum.value)/LN10)","ticks":false,"domain":false,"labelFontSize":24,"labelPadding":22,"labelDy":-17,"labelBaseline":"middle","title":null}},
    "detail":{"field":"algorithm"}}},
  {"mark":{"type":"line","opacity":0},
   "encoding":{
    "x":{"field":"iteration","type":"quantitative","axis":{"orient":"top","offset":-86,"values":[0,200,400,600,800,1000],"labels":false,"tickSize":-14,"title":null}},
    "y":{"field":"score","type":"quantitative","axis":{"orient":"left","offset":-209,"values":[1e-11,1e-10,1e-9,1e-8,1e-7,1e-6,1e-5,1e-4,1e-3,0.01,0.1,1,10,100,1000,10000,100000],"labels":false,"tickSize":-14,"title":null}},
    "detail":{"field":"algorithm"}}},
  {"mark":{"type":"line","opacity":0},
   "encoding":{
    "x":{"field":"iteration","type":"quantitative","axis":null},
    "y":{"field":"score","type":"quantitative","axis":{"orient":"right","offset":-81,"values":[1e-11,1e-10,1e-9,1e-8,1e-7,1e-6,1e-5,1e-4,1e-3,0.01,0.1,1,10,100,1000,10000,100000],"labels":false,"tickSize":-14,"title":null}},
    "detail":{"field":"algorithm"}}}
 ]},
{"width":1594,"height":1218,
 "title":{"text":"convergence curve of F10","dx":70,"offset":-107,"baseline":"alphabetic"},
 "data":{"name":"curves"},"transform":[{"filter":"datum.panel == 'C'"}],
 "resolve":{"axis":{"x":"independent","y":"independent"}},
 "layer":[
  {"mark":{"type":"line","strokeWidth":3.8,"clip":true},
   "encoding":{
    "x":{"field":"iteration","type":"quantitative","scale":{"domain":[0,500],"range":[245,1489],"nice":false,"zero":false},
      "axis":{"orient":"bottom","offset":-155,"values":[0,100,200,300,400,500],"format":"d","ticks":false,"domain":false,"labelPadding":20,"labelBaseline":"top","title":"Iteration","titleY":107,"titleBaseline":"alphabetic"}},
    "y":{"field":"score","type":"quantitative","scale":{"type":"log","domain":[7.08e-11,10000000000],"range":[1063,87],"nice":false},
      "axis":{"orient":"left","offset":-245,"values":[1e-10,1e-5,1,100000,10000000000],"labelExpr":"'10'","ticks":false,"domain":false,"labelBaseline":"middle","labelPadding":{"condition":[{"test":"datum.value < 1e-7","value":54},{"test":"datum.value < 0.1","value":40},{"test":"datum.value > 1e7","value":46}],"value":32},"title":"Best score obtained so far","titleX":-127,"titleBaseline":"alphabetic","titleAngle":-90}},
    "color":{"field":"algorithm","type":"nominal","scale":{"domain":["ALO","saALO","EALO"],"range":["#5050ff","#4aea4a","#ff5454"]},
      "legend":{"orient":"none","legendX":1207,"legendY":113,"title":null,"symbolType":"M-3.67,0H3.67","symbolSize":900,"symbolStrokeWidth":3.5,"symbolOffset":40,"labelOffset":47,"labelFontSize":36,"labelColor":"#222222","padding":12,"rowPadding":11,"strokeColor":"#555555","fillColor":"#ffffff"}}
   }},
  {"mark":{"type":"line","opacity":0},
   "encoding":{
    "x":{"field":"iteration","type":"quantitative","axis":{"orient":"bottom","offset":-155,"values":[0,100,200,300,400,500],"labels":false,"tickSize":-14,"title":null}},
    "y":{"field":"score","type":"quantitative","axis":{"orient":"left","offset":-245,"values":[1e-10,1e-5,1,100000,10000000000],"labelExpr":"'' + round(log(datum.value)/LN10)","ticks":false,"domain":false,"labelFontSize":24,"labelPadding":18,"labelDy":-17,"labelBaseline":"middle","title":null}},
    "detail":{"field":"algorithm"}}},
  {"mark":{"type":"line","opacity":0},
   "encoding":{
    "x":{"field":"iteration","type":"quantitative","axis":{"orient":"top","offset":-87,"values":[0,100,200,300,400,500],"labels":false,"tickSize":-14,"title":null}},
    "y":{"field":"score","type":"quantitative","axis":{"orient":"left","offset":-245,"values":[1e-10,1e-9,1e-8,1e-7,1e-6,1e-5,1e-4,1e-3,0.01,0.1,1,10,100,1000,10000,100000,1000000,10000000,100000000,1000000000,10000000000],"labels":false,"tickSize":-14,"title":null}},
    "detail":{"field":"algorithm"}}},
  {"mark":{"type":"line","opacity":0},
   "encoding":{
    "x":{"field":"iteration","type":"quantitative","axis":null},
    "y":{"field":"score","type":"quantitative","axis":{"orient":"right","offset":-105,"values":[1e-10,1e-9,1e-8,1e-7,1e-6,1e-5,1e-4,1e-3,0.01,0.1,1,10,100,1000,10000,100000,1000000,10000000,100000000,1000000000,10000000000],"labels":false,"tickSize":-14,"title":null}},
    "detail":{"field":"algorithm"}}}
 ]},
{"width":1533,"height":1218,
 "title":{"text":"convergence curve of F10","dx":59,"offset":-123,"baseline":"alphabetic"},
 "data":{"name":"curves"},"transform":[{"filter":"datum.panel == 'D'"}],
 "resolve":{"axis":{"x":"independent","y":"independent"}},
 "layer":[
  {"mark":{"type":"line","strokeWidth":3.8,"clip":true},
   "encoding":{
    "x":{"field":"iteration","type":"quantitative","scale":{"domain":[0,1000],"range":[218,1433],"nice":false,"zero":false},
      "axis":{"orient":"bottom","offset":-159,"values":[0,200,400,600,800,1000],"format":"d","ticks":false,"domain":false,"labelPadding":18,"labelBaseline":"top","title":"Iteration","titleY":103,"titleBaseline":"alphabetic"}},
    "y":{"field":"score","type":"quantitative","scale":{"type":"log","domain":[1e-15,10000000000],"range":[1059,96],"nice":false},
      "axis":{"orient":"left","offset":-218,"values":[1e-15,1e-10,1e-5,1,100000,10000000000],"labelExpr":"'10'","ticks":false,"domain":false,"labelBaseline":"middle","labelPadding":{"condition":[{"test":"datum.value < 1e-7","value":56},{"test":"datum.value < 0.1","value":42},{"test":"datum.value > 1e7","value":48}],"value":34},"title":"Best score obtained so far","titleX":-126,"titleBaseline":"alphabetic","titleAngle":-90}},
    "color":{"field":"algorithm","type":"nominal","scale":{"domain":["ALO","saALO","EALO"],"range":["#5050ff","#4aea4a","#ff5454"]},
      "legend":{"orient":"none","legendX":1157,"legendY":124,"title":null,"symbolType":"M-3.67,0H3.67","symbolSize":900,"symbolStrokeWidth":3.5,"symbolOffset":40,"labelOffset":47,"labelFontSize":36,"labelColor":"#222222","padding":12,"rowPadding":11,"strokeColor":"#555555","fillColor":"#ffffff"}}
   }},
  {"mark":{"type":"line","opacity":0},
   "encoding":{
    "x":{"field":"iteration","type":"quantitative","axis":{"orient":"bottom","offset":-159,"values":[0,200,400,600,800,1000],"labels":false,"tickSize":-14,"title":null}},
    "y":{"field":"score","type":"quantitative","axis":{"orient":"left","offset":-218,"values":[1e-15,1e-10,1e-5,1,100000,10000000000],"labelExpr":"'' + round(log(datum.value)/LN10)","ticks":false,"domain":false,"labelFontSize":24,"labelPadding":20,"labelDy":-17,"labelBaseline":"middle","title":null}},
    "detail":{"field":"algorithm"}}},
  {"mark":{"type":"line","opacity":0},
   "encoding":{
    "x":{"field":"iteration","type":"quantitative","axis":{"orient":"top","offset":-96,"values":[0,200,400,600,800,1000],"labels":false,"tickSize":-14,"title":null}},
    "y":{"field":"score","type":"quantitative","axis":{"orient":"left","offset":-218,"values":[1e-15,1e-14,1e-13,1e-12,1e-11,1e-10,1e-9,1e-8,1e-7,1e-6,1e-5,1e-4,1e-3,0.01,0.1,1,10,100,1000,10000,100000,1000000,10000000,100000000,1000000000,10000000000],"labels":false,"tickSize":-14,"title":null}},
    "detail":{"field":"algorithm"}}},
  {"mark":{"type":"line","opacity":0},
   "encoding":{
    "x":{"field":"iteration","type":"quantitative","axis":null},
    "y":{"field":"score","type":"quantitative","axis":{"orient":"right","offset":-100,"values":[1e-15,1e-14,1e-13,1e-12,1e-11,1e-10,1e-9,1e-8,1e-7,1e-6,1e-5,1e-4,1e-3,0.01,0.1,1,10,100,1000,10000,100000,1000000,10000000,100000000,1000000000,10000000000],"labels":false,"tickSize":-14,"title":null}},
    "detail":{"field":"algorithm"}}}
 ]}
]
}
